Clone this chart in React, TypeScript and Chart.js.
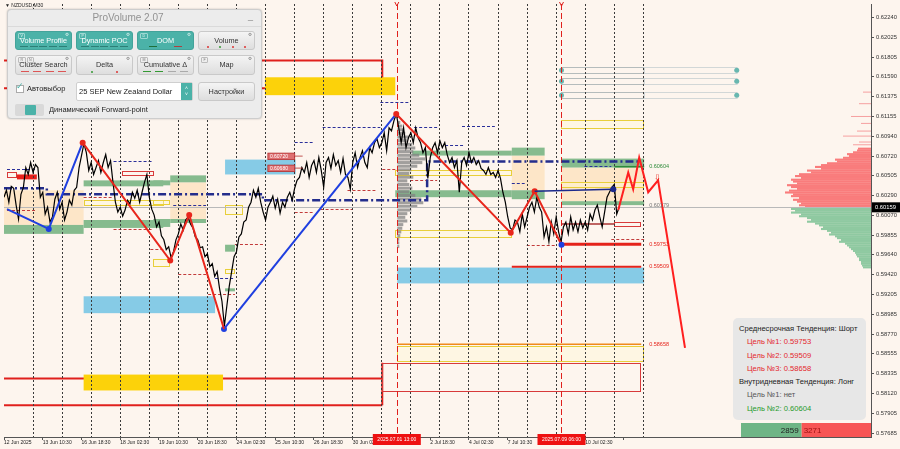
import React, { useEffect, useRef } from "react";
import { Chart, registerables } from "chart.js";

Chart.register(...registerables);

const FONT = "'Liberation Sans', 'DejaVu Sans', Arial, sans-serif";

// ---------------- data ----------------
const xTickLabels = [
  "12 Jun 2025", "13 Jun 10:30", "16 Jun 18:30", "18 Jun 02:30", "19 Jun 10:30",
  "20 Jun 18:30", "24 Jun 02:30", "25 Jun 10:30", "26 Jun 18:30", "30 Jun 02:30",
  "1 Jul 10:30", "2 Jul 18:30", "4 Jul 02:30", "7 Jul 10:30", "8 Jul 18:30", "10 Jul 02:30",
];
const yTickValues = [
  0.6224, 0.62025, 0.61805, 0.6159, 0.61375, 0.61155, 0.6094, 0.6072, 0.60505, 0.6029, 0.6007,
  0.59855, 0.5964, 0.5942, 0.59205, 0.58985, 0.5877, 0.58555, 0.58335, 0.5812, 0.57905, 0.57685,
];
const yMin = 0.57642;
const yMax = 0.62387;
const xMax = 89.5;
const barSlot = 0.25;

const closePrices = [
  0.6027, 0.60346, 0.60215, 0.60389, 0.60367, 0.60183, 0.60031, 0.60302, 0.60378, 0.60595,
  0.60519, 0.6065, 0.60541, 0.60628, 0.60595, 0.6027, 0.60324, 0.60085, 0.60161, 0.59998,
  0.60053, 0.60248, 0.60324, 0.60139, 0.60215, 0.6002, 0.60107, 0.60237, 0.60183, 0.60346,
  0.60378, 0.60595, 0.60726, 0.60856, 0.60758, 0.60563, 0.6065, 0.60519, 0.60595, 0.60671,
  0.60541, 0.6065, 0.60737, 0.60595, 0.60671, 0.60433, 0.60215, 0.60107, 0.60161, 0.60063,
  0.60129, 0.60237, 0.60194, 0.60324, 0.60259, 0.60346, 0.60215, 0.60324, 0.60433, 0.60519,
  0.6027, 0.60139, 0.60074, 0.59944, 0.59998, 0.59846, 0.59803, 0.59694, 0.59727, 0.59607,
  0.59673, 0.59803, 0.59868, 0.59977, 0.59911, 0.6002, 0.60053, 0.59977, 0.59933, 0.59835,
  0.59803, 0.59716, 0.59727, 0.59618, 0.59651, 0.5951, 0.59542, 0.59401, 0.59455, 0.59271,
  0.5913, 0.58858, 0.59075, 0.59293, 0.59455, 0.59618, 0.59673, 0.59835, 0.59868, 0.59998,
  0.6002, 0.60161, 0.60215, 0.60346, 0.6027, 0.60367, 0.60215, 0.60107, 0.6002, 0.60161,
  0.60215, 0.60281, 0.6015, 0.60248, 0.60096, 0.60215, 0.60161, 0.6027, 0.60324, 0.60237,
  0.60367, 0.60454, 0.60487, 0.60595, 0.60541, 0.6065, 0.60487, 0.60617, 0.60671, 0.60541,
  0.60704, 0.60563, 0.60378, 0.6065, 0.60704, 0.60585, 0.60737, 0.60617, 0.60671, 0.60541,
  0.60693, 0.60519, 0.60487, 0.60357, 0.6065, 0.60758, 0.60595, 0.60704, 0.6078, 0.6065,
  0.60595, 0.60813, 0.60758, 0.60867, 0.6091, 0.60813, 0.60867, 0.60976, 0.6078, 0.6103,
  0.60997, 0.61106, 0.61182, 0.6103, 0.60867, 0.6103, 0.60813, 0.60921, 0.60976, 0.60867,
  0.6103, 0.60921, 0.60867, 0.60758, 0.60813, 0.60476, 0.60704, 0.60813, 0.60867, 0.60758,
  0.60889, 0.60813, 0.60867, 0.60737, 0.6065, 0.60704, 0.60595, 0.60671, 0.60324, 0.6065,
  0.60704, 0.60617, 0.60758, 0.6065, 0.60704, 0.60628, 0.60671, 0.60585, 0.60563, 0.60519,
  0.60595, 0.60519, 0.60541, 0.60487, 0.60563, 0.60476, 0.60324, 0.60215, 0.60053, 0.59933,
  0.59911, 0.6002, 0.59998, 0.5989, 0.60085, 0.59944, 0.60053, 0.60161, 0.60215, 0.60107,
  0.6027, 0.60161, 0.60107, 0.59835, 0.59944, 0.59781, 0.59998, 0.59868, 0.60053, 0.5989,
  0.59781, 0.59944, 0.59998, 0.59868, 0.60053, 0.59911, 0.59998, 0.5989, 0.6002, 0.59933,
  0.59998, 0.59911, 0.60085, 0.6002, 0.60129, 0.60183, 0.60053, 0.59944, 0.60107, 0.6027,
  0.60324, 0.60378, 0.60411, 0.60085, 0.60159,
];
const bidPrice = 0.60159;

const zigBlueA = [[0.31, 0.60139], [4.62, 0.59922], [8.12, 0.60867]];
const zigRedA = [[8.12, 0.60867], [17.16, 0.59575], [19.12, 0.60074], [22.71, 0.58826]];
const zigBlueB = [[22.71, 0.58826], [40.49, 0.61182]];
const zigRedB = [[40.49, 0.61182], [52.31, 0.59879], [54.78, 0.60335], [57.55, 0.59749]];
const zigBlueEnd = [[57.55, 0.59749]];
const navyLink = [[54.78, 0.60335], [62.9, 0.60357]];
const forwardPath = [
  [63.41, 0.60129], [64.44, 0.60541], [64.95, 0.60357], [65.57, 0.60704],
  [66.5, 0.60324], [67.52, 0.60454], [70.3, 0.58619],
];
const navyLevelPath = [
  [0, 0.60367], [4.42, 0.60367], [4.42, 0.60302], [26.72, 0.60302], [26.72, 0.60237],
  [43.68, 0.60237], [43.68, 0.60661], [65.78, 0.60661],
];

// zones: [xFrom, xTo, priceTop, priceBottom]
const peachZones = [
  [0, 8.22, 0.60346, 0.59966],
  [17.16, 20.86, 0.60433, 0.60031],
  [52.42, 55.81, 0.60726, 0.60346],
  [57.55, 66.08, 0.60595, 0.60226],
];
const greenZones = [
  [0, 8.22, 0.59966, 0.59868],
  [8.22, 16.44, 0.6002, 0.59933],
  [8.22, 16.44, 0.60454, 0.60389],
  [15.42, 17.16, 0.60454, 0.604],
  [17.16, 20.86, 0.60509, 0.60433],
  [15.42, 17.16, 0.60031, 0.59944],
  [17.16, 20.86, 0.60031, 0.59987],
  [22.82, 23.84, 0.59749, 0.59673],
  [22.82, 23.84, 0.59271, 0.59238],
  [42.14, 52.42, 0.6078, 0.60726],
  [52.42, 55.81, 0.60813, 0.60726],
  [40.39, 52.42, 0.60346, 0.6027],
  [52.42, 55.81, 0.60346, 0.60248],
  [57.55, 66.08, 0.60693, 0.60595],
  [57.55, 66.08, 0.60226, 0.60183],
];
const blueZones = [
  [8.22, 21.79, 0.59184, 0.58999],
  [22.82, 30.11, 0.60682, 0.60519],
  [40.6, 66.08, 0.59499, 0.59325],
];
const goldZones = [
  [26.93, 40.39, 0.61584, 0.61388],
  [8.22, 22.61, 0.58326, 0.58152],
];
const yellowBoxes = [
  [8.22, 16.44, 0.60237, 0.60183],
  [15.42, 17.16, 0.60237, 0.60194],
  [15.42, 17.16, 0.59597, 0.59521],
  [22.82, 24.67, 0.60183, 0.60085],
  [22.82, 23.84, 0.59488, 0.59444],
  [40.39, 52.42, 0.60563, 0.60509],
  [40.39, 52.42, 0.59911, 0.59835],
  [57.55, 66.08, 0.61117, 0.6103],
  [57.55, 66.08, 0.60433, 0.60378],
  [40.6, 66.08, 0.58641, 0.58478],
];
const redBoxes = [
  [0.31, 1.34, 0.60541, 0.60487],
  [12.13, 15.42, 0.60552, 0.60509],
  [63.0, 65.78, 0.59998, 0.59955],
  [39.05, 65.78, 0.58456, 0.58152],
];
const redFilled = [[1.34, 3.39, 0.60519, 0.60465]];
const redFrames = [
  [[0, 0.61768], [39.05, 0.61768], [39.05, 0.61464], [0, 0.61464]],
  [[0, 0.58283], [39.05, 0.58283]],
  [[39.05, 0.58456], [39.05, 0.5799]],
  [[0, 0.5799], [39.05, 0.5799]],
];
// short dashed levels: [xFrom, xTo, price]
const navyDashes = [
  [0.31, 3.39, 0.60574], [11.31, 15.42, 0.60671], [30.01, 31.86, 0.60878], [17.47, 20.86, 0.60183],
  [21.79, 23.84, 0.59379], [32.89, 38.85, 0.61041], [38.85, 41.93, 0.61312], [42.34, 44.71, 0.61041],
  [45.53, 47.58, 0.60845], [47.28, 50.67, 0.61052], [52.42, 53.75, 0.60422], [59.92, 62.69, 0.60617],
];
const redDashes = [
  [0.31, 3.39, 0.60129], [8.22, 11.31, 0.6027], [11.31, 15.42, 0.59922], [15.11, 16.44, 0.59705],
  [17.99, 20.86, 0.59433], [21.07, 23.84, 0.59206], [23.84, 26.93, 0.59759], [30.01, 31.86, 0.60107],
  [32.68, 35.97, 0.60139], [35.46, 38.34, 0.60346], [39.05, 40.6, 0.60574], [41.93, 44.71, 0.60454],
  [53.96, 57.04, 0.59749], [62.69, 66.08, 0.59814],
];
const targetLines = [
  { from: 57.55, to: 65.78, price: 0.59753, color: "#e5231b", width: 3 },
  { from: 52.42, to: 65.78, price: 0.59509, color: "#e5231b", width: 2 },
  { from: 40.6, to: 65.78, price: 0.58658, color: "#f08a1c", width: 1.5 },
  { from: 63.0, to: 66.08, price: 0.60604, color: "#2e8b3a", width: 1.5 },
  { from: 57.55, to: 63.0, price: 0.59977, color: "#a33", width: 1.5 },
];
const targetLabels = [
  { text: "0.60604", price: 0.60604, color: "#2e8b3a" },
  { text: "0.60179", price: 0.60179, color: "#777" },
  { text: "0.59753", price: 0.59753, color: "#e5231b" },
  { text: "0.59509", price: 0.59509, color: "#e5231b" },
  { text: "0.58658", price: 0.58658, color: "#e5231b" },
];
const priceTags = [
  { text: "0.60720", price: 0.6072 },
  { text: "0.60680", price: 0.6068 },
];
const forwardLevels = [0.6166, 0.6154, 0.61388];
const forwardLevelFrom = 57.55;
const forwardLevelMid = 66.08;
const forwardLevelTo = 75.64;
const eventLines = [
  { x: 40.55, label: "2025.07.01 13:00" },
  { x: 57.55, label: "2025.07.09 06:00" },
];

// volume profiles
const sessionProfileStart = 40.6;
const sessionProfileTop = 0.61106;
const sessionProfileBin = 0.0004;
const sessionProfileVol = [
  3, 5, 6, 8, 12, 10, 15, 18, 16, 22, 28, 25, 20, 14, 12, 16, 10, 12, 15, 12,
  18, 24, 26, 20, 14, 10, 8, 10, 6, 5, 4, 3, 2, 2, 2,
];
const rightProfileTop = 0.60813;
const rightProfileBin = 0.0002;
const rightProfileSell = [
  13, 14, 18, 24, 22, 28, 36, 34, 44, 50, 56, 50, 64, 60, 72, 76, 70, 80, 78, 74,
  84, 80, 74, 82, 86, 78, 80, 72, 78, 74, 70, 72, 66,
];
const rightProfileBuy = [
  80, 76, 80, 70, 72, 64, 60, 64, 56, 52, 48, 50, 44, 40, 42, 36, 34, 30, 32, 26,
  24, 22, 20, 18, 16, 15, 14, 12, 12, 10, 10, 9, 8,
];
const rightProfileThin = [
  [0.61427, 8], [0.613, 12], [0.6116, 20], [0.61084, 10], [0.61, 14], [0.60945, 28],
  [0.6088, 12], [0.6085, 18],
];
const deltaBuy = 2859;
const deltaSell = 3271;

// ---------------- drawing helpers ----------------
const BG = "#fdf5ee";

function mappers(chart: any) {
  const xs = chart.scales.x;
  const ys = chart.scales.y;
  return {
    X: (u: number) => xs.getPixelForValue(u),
    Y: (v: number) => ys.getPixelForValue(v),
  };
}

function drawRects(ctx: any, X: any, Y: any, rects: number[][], fill: string | null, stroke?: string) {
  for (const [x1, x2, v1, v2] of rects) {
    const l = X(x1), r = X(x2), t = Y(v1), b = Y(v2);
    if (fill) {
      ctx.fillStyle = fill;
      ctx.fillRect(l, t, r - l, b - t);
    }
    if (stroke) {
      ctx.strokeStyle = stroke;
      ctx.lineWidth = 1;
      ctx.strokeRect(Math.round(l) + 0.5, Math.round(t) + 0.5, Math.round(r - l) - 1, Math.round(b - t));
    }
  }
}

const overlayPlugin = {
  id: "overlay",
  beforeDraw(chart: any) {
    const ctx = chart.ctx;
    const area = chart.chartArea;
    const { X, Y } = mappers(chart);
    ctx.save();
    ctx.fillStyle = BG;
    ctx.fillRect(0, 0, chart.width, chart.height);
    ctx.beginPath();
    ctx.rect(area.left, area.top, area.right - area.left, area.bottom - area.top);
    ctx.clip();

    drawRects(ctx, X, Y, peachZones, "#fde6c8");
    drawRects(ctx, X, Y, blueZones, "#86cbe6");
    drawRects(ctx, X, Y, greenZones, "#86bb8e");
    ctx.strokeStyle = "#e0201c";
    ctx.lineWidth = 2;
    for (const path of redFrames) {
      ctx.beginPath();
      path.forEach(([u, v]: number[], i: number) => {
        const x = X(u), y = Y(v);
        if (i === 0) ctx.moveTo(x, y); else ctx.lineTo(x, y);
      });
      ctx.stroke();
    }
    drawRects(ctx, X, Y, goldZones, "#fcd20a");
    drawRects(ctx, X, Y, yellowBoxes, "rgba(255,250,205,0.35)", "#e8cf3a");
    drawRects(ctx, X, Y, redBoxes, null, "#d83a3a");
    drawRects(ctx, X, Y, redFilled, "#e8201c");

    ctx.lineWidth = 1;
    ctx.setLineDash([3, 2]);
    ctx.strokeStyle = "#2a2f9a";
    for (const [a, b, v] of navyDashes) {
      const y = Math.round(Y(v)) + 0.5;
      ctx.beginPath(); ctx.moveTo(X(a), y); ctx.lineTo(X(b), y); ctx.stroke();
    }
    ctx.strokeStyle = "#c23b3b";
    for (const [a, b, v] of redDashes) {
      const y = Math.round(Y(v)) + 0.5;
      ctx.beginPath(); ctx.moveTo(X(a), y); ctx.lineTo(X(b), y); ctx.stroke();
    }
    ctx.setLineDash([]);

    ctx.fillStyle = "rgba(130,130,130,0.75)";
    const x0 = X(sessionProfileStart);
    sessionProfileVol.forEach((vol, i) => {
      const t = Y(sessionProfileTop - i * sessionProfileBin);
      const b = Y(sessionProfileTop - (i + 1) * sessionProfileBin);
      ctx.fillRect(x0, t, vol, (b - t) - 0.6);
    });

    const right = area.right;
    ctx.fillStyle = "#f97c7c";
    rightProfileSell.forEach((vol, i) => {
      const t = Y(rightProfileTop - i * rightProfileBin);
      const b = Y(rightProfileTop - (i + 1) * rightProfileBin);
      ctx.fillRect(right - vol, t, vol, b - t + 0.3);
    });
    ctx.fillStyle = "#8fc9a1";
    const buyTop = rightProfileTop - rightProfileSell.length * rightProfileBin;
    rightProfileBuy.forEach((vol, i) => {
      const t = Y(buyTop - i * rightProfileBin);
      const b = Y(buyTop - (i + 1) * rightProfileBin);
      ctx.fillRect(right - vol, t, vol, b - t + 0.3);
    });
    ctx.fillStyle = "#f6a0a0";
    for (const [v, vol] of rightProfileThin) {
      ctx.fillRect(right - vol, Y(v), vol, 1);
    }

    for (const t of targetLines) {
      ctx.strokeStyle = t.color;
      ctx.lineWidth = t.width;
      ctx.beginPath(); ctx.moveTo(X(t.from), Y(t.price)); ctx.lineTo(X(t.to), Y(t.price)); ctx.stroke();
    }

    for (const v of forwardLevels) {
      const y = Y(v);
      ctx.strokeStyle = "#b5bcbc";
      ctx.lineWidth = 1;
      ctx.strokeRect(Math.round(X(forwardLevelFrom)) + 0.5, Math.round(y - 3) + 0.5, X(forwardLevelMid) - X(forwardLevelFrom), 6);
      ctx.strokeStyle = "#d2d7d7";
      ctx.strokeRect(Math.round(X(forwardLevelMid)) + 0.5, Math.round(y - 3) + 0.5, X(forwardLevelTo) - X(forwardLevelMid), 6);
      ctx.fillStyle = "#68b7b0";
      for (const u of [forwardLevelFrom, forwardLevelTo]) {
        ctx.beginPath(); ctx.arc(X(u), y, 2.5, 0, Math.PI * 2); ctx.fill();
      }
    }

    ctx.strokeStyle = "#b9b9b9";
    ctx.lineWidth = 1;
    const by = Math.round(Y(bidPrice)) + 0.5;
    ctx.beginPath(); ctx.moveTo(area.left, by); ctx.lineTo(area.right, by); ctx.stroke();

    ctx.strokeStyle = "#e0201c";
    ctx.setLineDash([6, 3]);
    for (const e of eventLines) {
      const x = Math.round(X(e.x)) + 0.5;
      ctx.beginPath(); ctx.moveTo(x, area.top); ctx.lineTo(x, area.bottom); ctx.stroke();
    }
    ctx.setLineDash([]);
    ctx.restore();
  },
  afterDraw(chart: any) {
    const ctx = chart.ctx;
    const area = chart.chartArea;
    const { X, Y } = mappers(chart);
    ctx.save();
    ctx.textBaseline = "middle";

    ctx.font = `5.5px ${FONT}`;
    ctx.textAlign = "left";
    for (const l of targetLabels) {
      ctx.fillStyle = l.color;
      ctx.fillText(l.text, X(66.6), Y(l.price));
    }
    ctx.fillStyle = "#e5231b";
    ctx.font = `8px ${FONT}`;
    ctx.fillText("\u21E9", X(67.1), Y(0.60486));

    priceTags.forEach((p, i) => {
      const y = Y(priceTags[0].price) + i * 12;
      const l = X(27.24), r = X(30.01);
      ctx.fillStyle = "#de6f70";
      ctx.fillRect(l, y - 3, r - l, 6.5);
      ctx.strokeStyle = "#b42c2c";
      ctx.lineWidth = 0.8;
      ctx.strokeRect(l, y - 3, r - l, 6.5);
      ctx.beginPath(); ctx.moveTo(r, y); ctx.lineTo(X(30.83), y); ctx.stroke();
      ctx.fillStyle = "#fff";
      ctx.font = `5px ${FONT}`;
      ctx.fillText(p.text, l + 2, y + 0.3);
    });

    for (const e of eventLines) {
      const x = X(e.x);
      ctx.strokeStyle = "#e0201c";
      ctx.lineWidth = 1;
      ctx.beginPath(); ctx.moveTo(x - 2, 2); ctx.lineTo(x, 6); ctx.lineTo(x + 2, 2); ctx.stroke();
      ctx.fillStyle = "#ee1111";
      ctx.fillRect(x - 24, area.bottom - 3, 48, 11);
      ctx.fillStyle = "#fff";
      ctx.font = `5px ${FONT}`;
      ctx.textAlign = "center";
      ctx.fillText(e.label, x, area.bottom + 2.5);
    }

    const by = Y(bidPrice);
    ctx.fillStyle = "#000";
    ctx.fillRect(area.right + 1, by - 5, 28, 10);
    ctx.fillStyle = "#fff";
    ctx.font = `5.8px ${FONT}`;
    ctx.textAlign = "left";
    ctx.fillText(bidPrice.toFixed(5), area.right + 4, by + 0.3);

    const total = deltaBuy + deltaSell;
    const barL = 741, barR = area.right, barT = 423, barB = area.bottom;
    const mid = barL + (barR - barL) * (deltaBuy / total);
    ctx.fillStyle = "#6fb586";
    ctx.fillRect(barL, barT, mid - barL, barB - barT);
    ctx.fillStyle = "#f75555";
    ctx.fillRect(mid, barT, barR - mid, barB - barT);
    ctx.font = `8px ${FONT}`;
    ctx.fillStyle = "#222";
    ctx.textAlign = "right";
    ctx.fillText(String(deltaBuy), mid - 3, (barT + barB) / 2 + 0.5);
    ctx.fillStyle = "#9b1010";
    ctx.textAlign = "left";
    ctx.fillText(String(deltaSell), mid + 2, (barT + barB) / 2 + 0.5);

    ctx.fillStyle = "#222";
    ctx.font = `5px ${FONT}`;
    ctx.fillText("\u25BC NZDUSD,M30", 5, 6);
    ctx.restore();
  },
};

const pts = (arr: number[][]) => arr.map(([x, y]) => ({ x, y }));

// ---------------- UI pieces ----------------
const TEAL = "#4bb2a8";

function Marks({ items }: { items: string[] }) {
  return (
    <div style={{ position: "absolute", left: 3, right: 3, bottom: 1.5, height: 2, display: "flex", justifyContent: "space-around", alignItems: "center" }}>
      {items.map((c, i) => (
        <div key={i} style={{ width: c.startsWith("d") ? 2 : 8, height: c.startsWith("d") ? 2 : 1.2, borderRadius: c.startsWith("d") ? 1 : 0, background: c.slice(1) }} />
      ))}
    </div>
  );
}

function Btn(props: { x: number; y: number; w: number; h: number; label: string; active?: boolean; tags?: string[]; marks?: string[]; gear?: boolean }) {
  const { x, y, w, h, label, active, tags = [], marks = [], gear = true } = props;
  return (
    <div
      style={{
        position: "absolute", left: x, top: y, width: w, height: h, boxSizing: "border-box",
        borderRadius: 3, border: active ? `1px solid #43a39a` : "1px solid #c9c9c9",
        background: active ? TEAL : "linear-gradient(#f4f4f4, #dedede)",
        color: active ? "#fff" : "#333", fontSize: 7.3, fontFamily: FONT,
      }}
    >
      <div style={{ position: "absolute", left: 2, top: 1, display: "flex", gap: 1 }}>
        {tags.map((t) => (
          <div key={t} style={{ fontSize: 3.6, lineHeight: "4px", padding: "0 1.5px", border: "0.5px solid " + (active ? "#9ed8d2" : "#bbb"), borderRadius: 1, color: active ? "#e8f6f4" : "#777" }}>{t}</div>
        ))}
      </div>
      {gear && <div style={{ position: "absolute", right: 2, top: 0, fontSize: 4.5, lineHeight: "5px", color: active ? "#e0f3f1" : "#777" }}>{"\u2699"}</div>}
      <div style={{ position: "absolute", left: 0, right: 0, top: h / 2 - 6, textAlign: "center", lineHeight: "10px" }}>{label}</div>
      <Marks items={marks} />
    </div>
  );
}

function ProVolumePanel() {
  const colX = [7, 68, 129, 190];
  const w = 57;
  return (
    <div
      style={{
        position: "absolute", left: 7, top: 9, width: 255, height: 110, boxSizing: "border-box",
        background: "#ececec", border: "1px solid #cdcdcd", borderRadius: 4,
        boxShadow: "0 0 2px rgba(0,0,0,0.25)", fontFamily: FONT,
      }}
    >
      <div style={{ position: "absolute", left: 0, top: 1, width: 240, textAlign: "center", fontSize: 10, color: "#929292", lineHeight: "14px" }}>ProVolume 2.07</div>
      <div style={{ position: "absolute", left: 240, top: 0, fontSize: 9, color: "#888", lineHeight: "12px" }}>_</div>
      <div style={{ position: "absolute", left: 0, right: 0, top: 16, height: 1, background: "#dadada" }} />
      <Btn x={colX[0]} y={21} w={w} h={19} label="Volume Profile" active tags={["V"]} marks={["s#2d7f77", "s#2d7f77", "s#2d7f77", "s#2d7f77", "s#2d7f77"]} />
      <Btn x={colX[1]} y={21} w={w} h={19} label="Dynamic POC" active tags={["P"]} marks={["s#2d7f77", "s#2d7f77", "s#2d7f77", "s#2d7f77", "s#2d7f77"]} />
      <Btn x={colX[2]} y={21} w={w} h={19} label="DOM" active tags={["D"]} marks={["s#1f6f3a", "s#b04040"]} />
      <Btn x={colX[3]} y={21} w={w} h={19} label="Volume" marks={["d#d33", "d#393", "d#d33", "d#d33"]} />
      <Btn x={colX[0]} y={45} w={w} h={20} label="Cluster Search" tags={["R", "N"]} marks={["s#d55", "s#d55", "s#d55", "s#d55"]} />
      <Btn x={colX[1]} y={45} w={w} h={20} label="Delta" marks={["d#393", "d#d33"]} />
      <Btn x={colX[2]} y={45} w={w} h={20} label={"Cumulative \u0394"} tags={["M"]} marks={["s#393", "s#393", "s#aaa", "s#aaa"]} />
      <Btn x={colX[3]} y={45} w={w} h={20} label="Map" tags={["F"]} />
      <div style={{ position: "absolute", left: 8, top: 75, width: 8, height: 8, background: "#fff", border: "1px solid #aaa", boxSizing: "border-box" }} />
      <div style={{ position: "absolute", left: 8, top: 71, fontSize: 9, color: TEAL, lineHeight: "10px" }}>{"\u2713"}</div>
      <div style={{ position: "absolute", left: 19, top: 74, fontSize: 7.5, color: "#222", lineHeight: "10px" }}>Автовыбор</div>
      <div style={{ position: "absolute", left: 68, top: 72, width: 117, height: 19, boxSizing: "border-box", background: "#fff", border: "1px solid #cfcfcf", borderRadius: 2 }}>
        <div style={{ position: "absolute", left: 2, top: 4, fontSize: 7.5, color: "#222", lineHeight: "10px" }}>25 SEP New Zealand Dollar</div>
        <div style={{ position: "absolute", right: 0, top: 0, width: 11, height: 17, background: TEAL, color: "#fff", fontSize: 5, lineHeight: "6px", textAlign: "center", paddingTop: 2, boxSizing: "border-box" }}>{"\u02C4"}<br />{"\u02C5"}</div>
      </div>
      <Btn x={colX[3]} y={72} w={w} h={19} label="Настройки" gear={false} />
      <div style={{ position: "absolute", left: 7, top: 94, width: 29, height: 12, background: "#d9d9d9", borderRadius: 2 }}>
        <div style={{ position: "absolute", left: 10, top: 1, width: 11, height: 10, background: TEAL, borderRadius: 1 }} />
      </div>
      <div style={{ position: "absolute", left: 41, top: 95, fontSize: 7.5, color: "#222", lineHeight: "10px" }}>Динамический Forward-point</div>
    </div>
  );
}

function InfoBox() {
  const line = (text: string, color: string, indent: number) => (
    <div style={{ paddingLeft: indent, color, whiteSpace: "nowrap" }}>{text}</div>
  );
  return (
    <div
      style={{
        position: "absolute", left: 733, top: 318, width: 133, height: 102, boxSizing: "border-box",
        background: "#e7e7e7", borderRadius: 5, fontFamily: FONT, fontSize: 7.6, lineHeight: "13.3px", paddingTop: 4,
      }}
    >
      {line("Среднесрочная Тенденция: Шорт", "#222", 6)}
      {line("Цель №1: 0.59753", "#e4262b", 14)}
      {line("Цель №2: 0.59509", "#e4262b", 14)}
      {line("Цель №3: 0.58658", "#e4262b", 14)}
      {line("Внутридневная Тенденция: Лонг", "#222", 6)}
      {line("Цель №1: нет", "#555", 14)}
      {line("Цель №2: 0.60604", "#1f9a2a", 14)}
    </div>
  );
}

export default function App() {
  const ref = useRef<HTMLCanvasElement>(null);
  useEffect(() => {
    const canvas = ref.current as HTMLCanvasElement;
    const chart = new Chart(canvas, {
      type: "scatter",
      data: {
        datasets: [
          { data: pts(forwardPath), showLine: true, borderColor: "#ff1f1f", borderWidth: 2, pointRadius: 0 },
          { data: pts(zigBlueEnd), showLine: false, pointRadius: 3, pointBackgroundColor: "#1f3fe0", pointBorderWidth: 0 },
          { data: pts(navyLink), showLine: true, borderColor: "#1c2a8c", borderWidth: 1.5, pointRadius: [0, 3], pointBackgroundColor: "#1c2a8c", pointBorderWidth: 0 },
          { data: pts(zigRedB), showLine: true, borderColor: "#e8261c", borderWidth: 2, pointRadius: [3, 3, 3, 0], pointBackgroundColor: "#e8261c", pointBorderWidth: 0 },
          { data: pts(zigRedA), showLine: true, borderColor: "#e8261c", borderWidth: 2, pointRadius: [3, 3, 3, 0], pointBackgroundColor: "#e8261c", pointBorderWidth: 0 },
          { data: pts(zigBlueB), showLine: true, borderColor: "#1f3fe0", borderWidth: 2, pointRadius: [3, 0], pointBackgroundColor: "#1f3fe0", pointBorderWidth: 0 },
          { data: pts(zigBlueA), showLine: true, borderColor: "#1f3fe0", borderWidth: 2, pointRadius: [0, 3, 0], pointBackgroundColor: "#1f3fe0", pointBorderWidth: 0 },
          { data: closePrices.map((v, i) => ({ x: i * barSlot, y: v })), showLine: true, borderColor: "#000", borderWidth: 1.2, pointRadius: 0 },
          { data: pts(navyLevelPath), showLine: true, borderColor: "#232d8c", borderWidth: 2.5, borderDash: [8, 3, 2, 3], pointRadius: 0 },
        ],
      },
      options: {
        responsive: false,
        maintainAspectRatio: false,
        devicePixelRatio: 1,
        animation: false,
        events: [],
        layout: { padding: 0 },
        plugins: { legend: { display: false }, tooltip: { enabled: false } },
        scales: {
          x: {
            type: "linear",
            min: 0,
            max: xMax,
            afterBuildTicks: (s: any) => {
              const t: any[] = [];
              for (let i = 0; i <= 66; i++) if (i % 3 === 0 || i % 4 === 0) t.push({ value: i });
              s.ticks = t;
            },
            afterFit: (s: any) => { s.height = 12; s.paddingLeft = 0; s.paddingRight = 0; },
            ticks: {
              autoSkip: false, maxRotation: 0, minRotation: 0, align: "start", padding: 0,
              font: { size: 5, family: FONT }, color: "#222",
              callback: (v: any) => (v % 4 === 0 && v / 4 < xTickLabels.length ? xTickLabels[v / 4] : ""),
            },
            grid: {
              color: (c: any) => (c.tick && c.tick.value % 3 === 0 && c.tick.value > 0 ? "#3a3a3a" : "rgba(0,0,0,0)"),
              tickColor: (c: any) => (c.tick && c.tick.value % 4 === 0 ? "#555" : "rgba(0,0,0,0)"),
              tickLength: 3, lineWidth: 1,
            },
            border: { dash: [2, 2], color: "#555", width: 1 },
          },
          y: {
            type: "linear",
            position: "right",
            min: yMin,
            max: yMax,
            afterBuildTicks: (s: any) => { s.ticks = yTickValues.map((v) => ({ value: v })); },
            afterFit: (s: any) => { s.width = 29; s.paddingTop = 0; s.paddingBottom = 0; },
            ticks: {
              autoSkip: false, padding: 2, font: { size: 5.8, family: FONT }, color: "#333",
              callback: (v: any) => Number(v).toFixed(5),
            },
            grid: { drawOnChartArea: false, tickLength: 3, tickColor: "#555" },
            border: { color: "#555", width: 1 },
          },
        },
      } as any,
      plugins: [overlayPlugin],
    } as any);
    return () => chart.destroy();
  }, []);
  return (
    <div style={{ position: "fixed", left: 0, top: 0, width: 900, height: 449, overflow: "hidden", background: BG }}>
      <canvas ref={ref} width={900} height={449} style={{ position: "absolute", left: 0, top: 0, width: 900, height: 449 }} />
      <ProVolumePanel />
      <InfoBox />
    </div>
  );
}
